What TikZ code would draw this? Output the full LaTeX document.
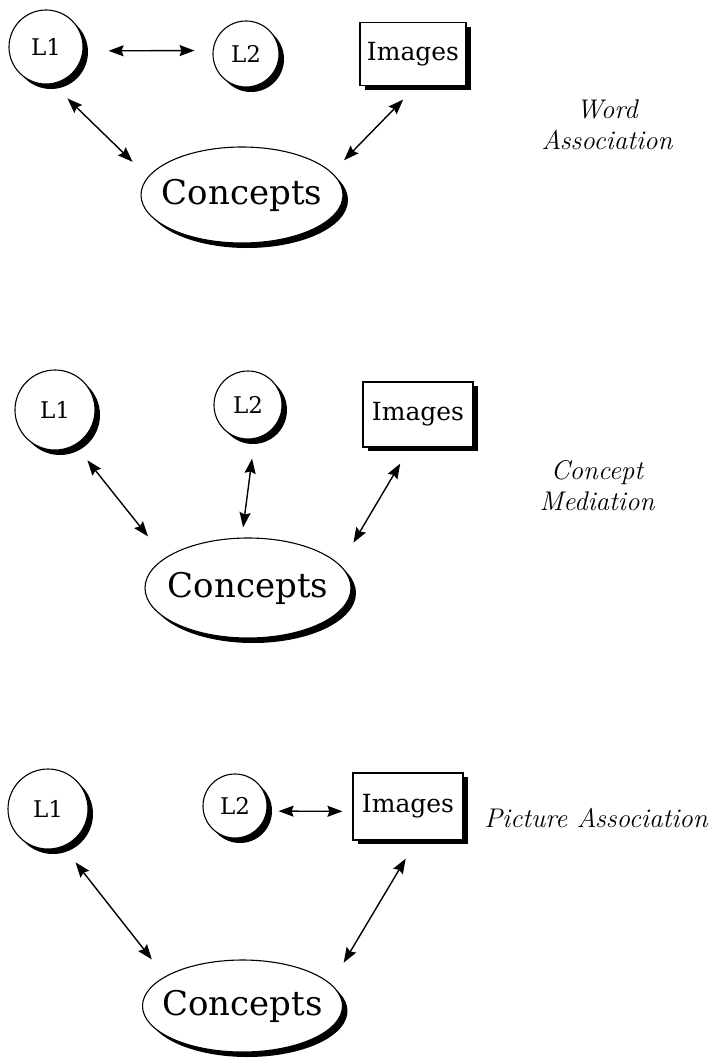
\documentclass[tikz,border=0pt]{standalone}
\usepackage{fontspec}
\newfontfamily\nodefont{DejaVu Serif}
\usetikzlibrary{shapes.geometric,shadows,arrows.meta}
\begin{document}
\begin{tikzpicture}[x=1pt,y=-1pt,
  shad/.style={drop shadow={shadow xshift=5pt,shadow yshift=-5pt,fill=black,opacity=1}},
  lang/.style={circle,draw,line width=1.1pt,fill=white,inner sep=0pt,shad,font=\nodefont\fontsize{23}{27}\selectfont},
  img/.style={rectangle,draw,line width=1.1pt,fill=white,inner sep=0pt,minimum width=110pt,minimum height=65pt,
     drop shadow={shadow xshift=5pt,shadow yshift=-4pt,fill=black,opacity=1},font=\nodefont\fontsize{25}{29}\selectfont},
  conc/.style={ellipse,draw,line width=1.1pt,fill=white,inner sep=0pt,shad,minimum width=202pt,minimum height=96pt,font=\nodefont\fontsize{34}{39}\selectfont},
  lab/.style={align=center,font=\fontsize{27}{31}\selectfont\itshape},
  arr/.style={{Stealth[length=15pt,width=11pt,inset=2pt]}-{Stealth[length=15pt,width=11pt,inset=2pt]},line width=1.4pt},
]
\useasboundingbox (0,0) rectangle (724,1060);

% Panel 1: Word Association
\node[lang,minimum size=74pt] (L1a) at (46,47) {L1};
\node[lang,minimum size=66pt] (L2a) at (246,54) {L2};
\node[img,minimum width=106pt,minimum height=63pt] (Ima) at (413,54) {Images};
\node[conc] (Ca) at (242,195) {\makebox[60pt]{Concepts}};
\node[lab] (T1) at (607,125) {Word\\Association};
\draw[arr,shorten <=25.2pt,shorten >=18.1pt] (L1a.-6.2) -- (L2a.174.8);
\draw[arr,shorten <=20.8pt,shorten >=21.4pt] (L1a.-80.5) -- (Ca.169.1);
\draw[arr,shorten <=18.9pt,shorten >=17.2pt] (Ima.-84) -- (Ca.14.3);

% Panel 2: Concept Mediation
\node[lang,minimum size=80pt] (L1b) at (55,410) {L1};
\node[lang,minimum size=68pt] (L2b) at (248,405) {L2};
\node[img] (Imb) at (418,414.5) {Images};
\node[conc,minimum width=206pt,minimum height=100pt] (Cb) at (248,588) {\makebox[60pt]{Concepts}};
\node[lab] (T2) at (597,486) {Concept\\Mediation};
\draw[arr,shorten <=19.5pt,shorten >=27.3pt] (L1b.-60.2) -- (Cb.160.4);
\draw[arr,shorten <=19.8pt,shorten >=10.2pt] (L2b.-79) -- (Cb.97.2);
\draw[arr,shorten <=18.7pt,shorten >=25.9pt] (Imb.-104.3) -- (Cb.14.8);

% Panel 3: Picture Association
\node[lang,minimum size=80pt] (L1c) at (48,809) {L1};
\node[lang,minimum size=64pt] (L2c) at (235,806) {L2};
\node[img,minimum height=67pt] (Imc) at (408,806.5) {Images};
\node[conc,minimum width=200pt,minimum height=92pt] (Cc) at (242.5,1006) {\makebox[60pt]{Concepts}};
\node[lab] (T3) at (596,818) {Picture Association};
\draw[arr,shorten <=11.4pt,shorten >=10pt] (L2c.-9) -- (Imc.-175.3);
\draw[arr,shorten <=20pt,shorten >=21.4pt] (L1c.-68.6) -- (Cc.159.3);
\draw[arr,shorten <=21pt,shorten >=24.7pt] (Imc.-76.7) -- (Cc.14.8);
\end{tikzpicture}
\end{document}
